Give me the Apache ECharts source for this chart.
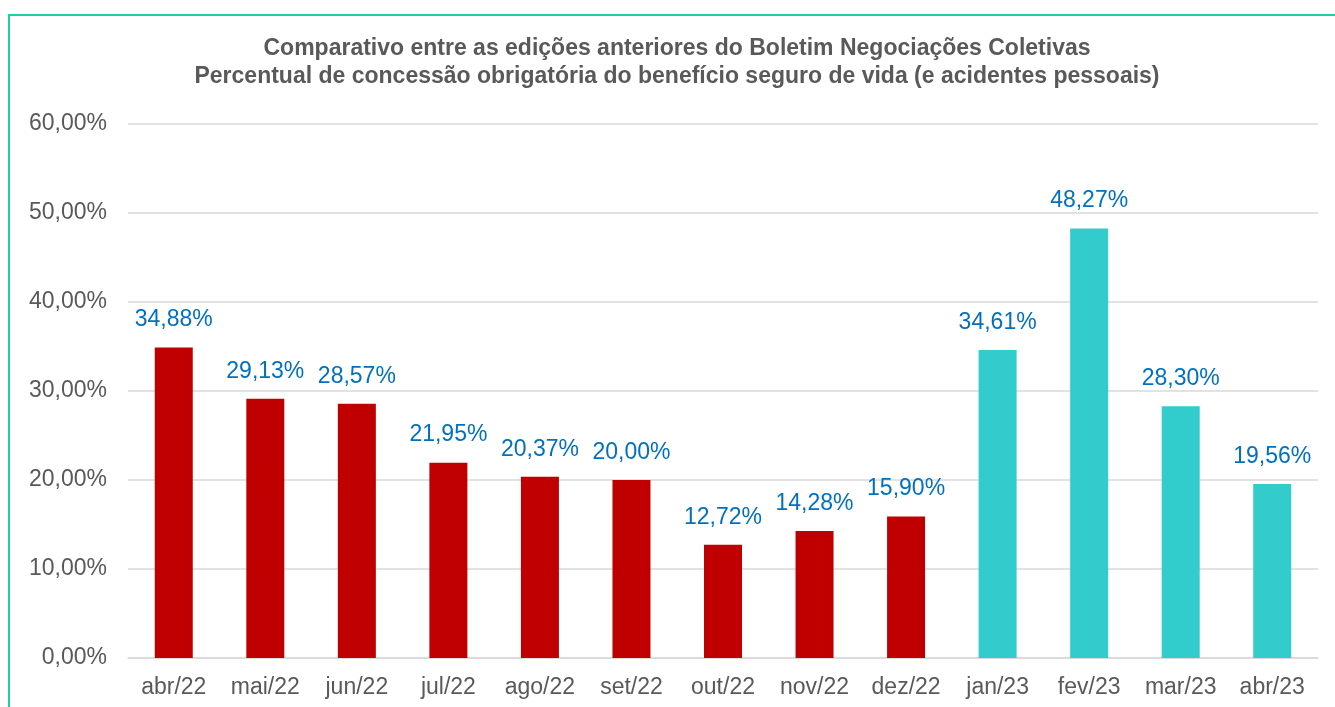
<!DOCTYPE html>
<html>
<head>
<meta charset="utf-8">
<script src="https://cdn.jsdelivr.net/npm/echarts@6/dist/echarts.min.js"></script>
<style>
  html, body { margin: 0; padding: 0; background: #fff; }
  #frame {
    position: absolute; left: 8px; top: 14px; right: -4px; bottom: -4px;
    border-left: 2px solid #1ECFA3; border-top: 2px solid #1ECFA3;
  }
  #chart { position: absolute; left: 0; top: 0; width: 1335px; height: 707px; }
</style>
</head>
<body>
<div id="frame"></div>
<div id="chart"></div>
<script>
const categories = ['abr/22', 'mai/22', 'jun/22', 'jul/22', 'ago/22', 'set/22', 'out/22', 'nov/22', 'dez/22', 'jan/23', 'fev/23', 'mar/23', 'abr/23'];
const percentValues = [34.88, 29.13, 28.57, 21.95, 20.37, 20.00, 12.72, 14.28, 15.90, 34.61, 48.27, 28.30, 19.56];
const titleLines = [
  'Comparativo entre as edições anteriores do Boletim Negociações Coletivas',
  'Percentual de concessão obrigatória do benefício seguro de vida (e acidentes pessoais)'
];

const fmtPct = v => v.toFixed(2).replace('.', ',') + '%';

const getOption = () => {
  return {
    animation: false,
    textStyle: { fontFamily: 'Liberation Sans, Arial, sans-serif' },
    title: {
      text: titleLines.join('\n'),
      left: 672,
      textAlign: 'center',
      top: 30,
      textStyle: { fontSize: 23, fontWeight: 'bold', color: '#595959', lineHeight: 28 }
    },
    grid: { left: 128, right: 17, top: 124, bottom: 49 },
    xAxis: {
      type: 'category',
      data: categories,
      axisLine: { lineStyle: { color: '#D9D9D9', width: 1.5 } },
      axisTick: { show: false },
      axisLabel: { color: '#595959', fontSize: 23, margin: 18, interval: 0 }
    },
    yAxis: {
      type: 'value',
      min: 0,
      max: 60,
      interval: 10,
      axisLabel: { color: '#595959', fontSize: 23, margin: 21, formatter: fmtPct },
      splitLine: { lineStyle: { color: '#D9D9D9', width: 1.5 } }
    },
    series: [
      {
        type: 'bar',
        data: percentValues,
        barWidth: 38,
        itemStyle: {
          color: p => (categories[p.dataIndex].endsWith('/23') ? '#33CCCC' : '#C00000')
        },
        label: {
          show: true,
          position: 'top',
          distance: 16,
          color: '#0070C0',
          fontSize: 23,
          formatter: p => fmtPct(p.value)
        }
      }
    ]
  };
};

const initCharts = () => {
  const chart = echarts.init(document.getElementById('chart'));
  chart.setOption(getOption());
};

window.addEventListener('load', () => {
  initCharts();
});
</script>
</body>
</html>
